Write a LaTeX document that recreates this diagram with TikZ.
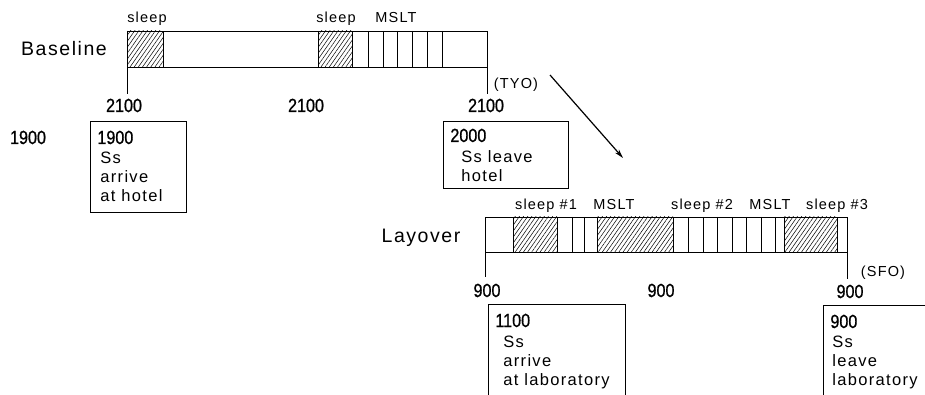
\documentclass[tikz,border=0pt]{standalone}
\usepackage{fontspec}
\setmainfont{Liberation Sans}[LetterSpace=8]
\newfontfamily\hourfont{Liberation Sans}[FakeStretch=0.85, FakeBold=0.8]
\usepackage{tikz}
\usetikzlibrary{positioning}
\usetikzlibrary{patterns.meta}
\usetikzlibrary{arrows.meta}

\begin{document}
\begin{tikzpicture}[x=1pt, y=-1pt, line width=0.8pt,
    bar/.style={draw, anchor=north west, inner sep=0pt},
    slp/.style={draw, pattern={Lines[angle=55, distance=3.4pt, line width=0.5pt]}},
    lbl/.style={font=\fontsize{14.5}{14.5}\selectfont, inner sep=0pt, anchor=base},
    ttl/.style={font=\fontsize{19.5}{19.5}\selectfont, inner sep=0pt, anchor=base},
    hr/.style={font=\hourfont\fontsize{19}{19}\selectfont, inner sep=0pt, anchor=base},
    hrl/.style={hr, anchor=base west},
    note/.style={draw, anchor=north west, inner sep=0pt},
    notetxt/.style={font=\fontsize{16.5}{19}\selectfont, align=left, inner sep=0pt, anchor=north west}
]
    \useasboundingbox (0,0) rectangle (925,395);

    \node[bar, minimum width=360pt, minimum height=36pt] (base) at (127,31) {};
    \draw[slp] (127,31) rectangle (163,67);
    \draw[slp] (318,31) rectangle (352,67);
    \foreach \x in {368,383,397,412,427,442} \draw (\x,31) -- (\x,67);
    \draw (base.south west) -- ++(0,26);
    \draw (base.south east) -- ++(0,26);

    \node[ttl] (basettl) at (64,56) {Baseline};
    \node[lbl] (bs1) at (147,23) {sleep};
    \node[lbl] (bs2) at (336,23) {sleep};
    \node[lbl] (bm) at (396,23) {MSLT};
    \node[lbl] (tyo) at (516,89) {(TYO)};

    \node[hr] (h1) at (124,112) {2100};
    \node[hr] (h2) at (306,112) {2100};
    \node[hr] (h3) at (486,112) {2100};
    \node[hr] (h0) at (28,144) {1900};

    \node[note, minimum width=96pt, minimum height=91pt] (hotelin) at (90,121) {};
    \node[hrl] (hotelinh) at (97,144) {1900};
    \node[notetxt] (hotelint) at (100,152) {Ss\\arrive\\at hotel};

    \node[note, minimum width=125pt, minimum height=67pt] (hotelout) at (443,121) {};
    \node[hrl] (hotelouth) at (450,142) {2000};
    \node[notetxt] (hoteloutt) at (461,150) {Ss leave\\hotel};

    \coordinate (a1) at (550,75);
    \coordinate (a2) at (623,158);
    \draw[line width=1.2pt, -{Stealth[length=9pt, width=5pt]}] (a1) -- (a2);

    \node[bar, minimum width=362pt, minimum height=35pt] (lay) at (485,217) {};
    \draw[slp] (513,217) rectangle (557,252);
    \draw[slp] (597,217) rectangle (673,252);
    \draw[slp] (784,217) rectangle (837,252);
    \foreach \x in {572,584,688,703,717,732,746,761,775} \draw (\x,217) -- (\x,252);
    \draw (lay.south west) -- ++(0,24);
    \draw (lay.south east) -- ++(0,26);

    \node[ttl] (layttl) at (421,242) {Layover};
    \node[lbl] (ls1) at (546,210) {sleep \#1};
    \node[lbl] (lm1) at (614,210) {MSLT};
    \node[lbl] (ls2) at (702,210) {sleep \#2};
    \node[lbl] (lm2) at (770,210) {MSLT};
    \node[lbl] (ls3) at (837,210) {sleep \#3};
    \node[lbl] (sfo) at (883,276) {(SFO)};

    \node[hr] (k1) at (487,297) {900};
    \node[hr] (k2) at (661,297) {900};
    \node[hr] (k3) at (850,298) {900};

    \node[note, minimum width=137pt, minimum height=110pt] (labin) at (488,304) {};
    \node[hrl] (labinh) at (495,327) {1100};
    \node[notetxt] (labint) at (503,336) {Ss\\arrive\\at laboratory};

    \node[note, minimum width=130pt, minimum height=110pt] (labout) at (823,305) {};
    \node[hrl] (labouth) at (830,328) {900};
    \node[notetxt] (laboutt) at (832,336) {Ss\\leave\\laboratory};

\end{tikzpicture}
\end{document}
